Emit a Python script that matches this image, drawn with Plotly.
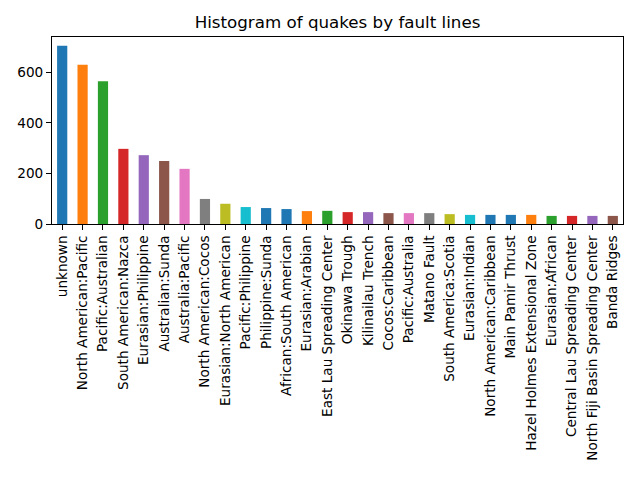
import plotly.graph_objects as go

categories = ["unknown", "North American:Pacific", "Pacific:Australian", "South American:Nazca",
              "Eurasian:Philippine", "Australian:Sunda", "Australia:Pacific", "North American:Cocos",
              "Eurasian:North American", "Pacific:Philippine", "Philippine:Sunda", "African:South American",
              "Eurasian:Arabian", "East Lau Spreading Center", "Okinawa Trough", "Kilinailau Trench",
              "Cocos:Caribbean", "Pacific:Australia", "Matano Fault", "South America:Scotia",
              "Eurasian:Indian", "North American:Caribbean", "Main Pamir Thrust",
              "Hazel Holmes Extensional Zone", "Eurasian:African", "Central Lau Spreading Center",
              "North Fiji Basin Spreading Center", "Banda Ridges"]
counts = [704, 629, 564, 297, 272, 249, 218, 99, 80, 67, 63, 59, 51, 52, 47, 47,
          43, 43, 43, 39, 36, 36, 36, 36, 32, 32, 32, 32]
bar_colors = ["#1f77b4", "#ff7f0e", "#2ca02c", "#d62728", "#9467bd", "#8c564b", "#e377c2",
              "#7f7f7f", "#bcbd22", "#17becf", "#1f77b4", "#1f77b4", "#ff7f0e", "#2ca02c",
              "#d62728", "#9467bd", "#8c564b", "#e377c2", "#7f7f7f", "#bcbd22", "#17becf",
              "#1f77b4", "#1f77b4", "#ff7f0e", "#2ca02c", "#d62728", "#9467bd", "#8c564b"]
yticks = [0, 200, 400, 600]

fig = go.Figure(go.Bar(x=list(range(len(categories))), y=counts, marker_color=bar_colors,
                       marker_line_width=0, width=0.5))
fig.update_layout(
    width=640, height=480,
    margin=dict(l=52, r=17, t=37, b=256, autoexpand=False),
    paper_bgcolor="white", plot_bgcolor="white",
    font=dict(family="DejaVu Sans", size=13.6, color="black"),
    title=dict(text="Histogram of quakes by fault lines", x=0.5, xanchor="center",
               xref="paper", y=1 - 22 / 480, yanchor="middle", font=dict(size=16.7)),
    showlegend=False,
)
fig.update_xaxes(range=[-0.5, len(categories) - 0.5], tickmode="array",
                 tickvals=list(range(len(categories))), ticktext=categories, tickangle=-90,
                 ticks="outside", ticklen=5, tickwidth=1, tickcolor="black",
                 showline=True, linecolor="black", linewidth=1, mirror=True, showgrid=False)
fig.update_yaxes(range=[0, 739], tickmode="array", tickvals=yticks,
                 ticks="outside", ticklen=5, tickwidth=1, tickcolor="black",
                 showline=True, linecolor="black", linewidth=1, mirror=True, showgrid=False,
                 zeroline=False)
fig.write_html("out.html", config={"displayModeBar": False},
               post_script="document.body.style.margin='0';")
